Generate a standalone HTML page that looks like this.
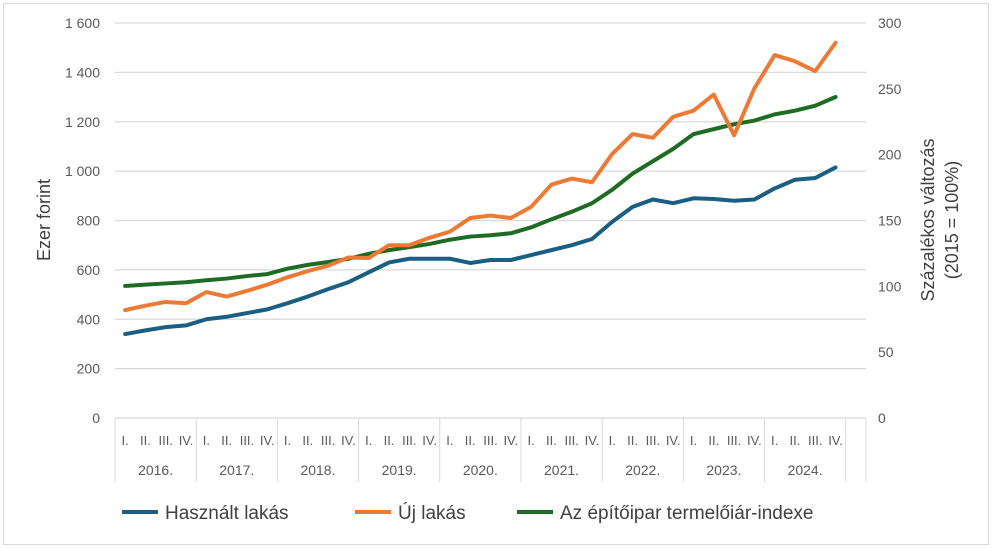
<!DOCTYPE html>
<html><head><meta charset="utf-8"><style>
body{margin:0;background:#fff;}
svg{display:block;font-family:"Liberation Sans",sans-serif;}
</style></head><body>
<svg id="c" width="992" height="548">
<rect x="3.5" y="3.5" width="985" height="541" fill="#fff" stroke="#d9d9d9"/>
<g id="grid"></g><g id="axes"></g><g id="lines"></g>
<text transform="translate(50,220) rotate(-90)" text-anchor="middle" font-size="18" fill="#404040">Ezer forint</text>
<text transform="translate(934,220) rotate(-90)" text-anchor="middle" font-size="18" fill="#404040"><tspan x="0" dy="0">Százalékos változás</tspan><tspan x="0" dy="24">(2015 = 100%)</tspan></text>
<g>
<line x1="122" y1="512" x2="158" y2="512" stroke="#1b5e83" stroke-width="4"/>
<text x="165" y="519" font-size="19" fill="#404040">Használt lakás</text>
<line x1="355" y1="512" x2="391" y2="512" stroke="#ed7a34" stroke-width="4"/>
<text x="398" y="519" font-size="19" fill="#404040">Új lakás</text>
<line x1="517" y1="512" x2="553" y2="512" stroke="#1e6b23" stroke-width="4"/>
<text x="560" y="519" font-size="19" fill="#404040">Az építőipar termelőiár-indexe</text>
</g>
</svg>
<script>
const years=["2016.","2017.","2018.","2019.","2020.","2021.","2022.","2023.","2024."];
const quarters=["I.","II.","III.","IV."];
const leftTicks=[0,200,400,600,800,1000,1200,1400,1600];
const rightTicks=[0,50,100,150,200,250,300];
const usedFlat=[340,355,368,375,400,410,425,440,465,492,522,550,590,630,645,645,645,628,640,640,660,680,700,725,795,855,885,870,890,887,880,885,930,965,972,1015];
const newFlat=[437,455,470,465,510,492,515,540,570,595,617,650,648,700,700,730,755,810,820,810,855,945,970,955,1070,1150,1135,1220,1245,1310,1145,1335,1470,1445,1405,1520];
const indexVals=[100.3,101.3,102.2,103.1,104.6,105.9,107.8,109.3,113.4,116.3,118.5,120.9,124.7,127.5,129.8,132.2,135.4,137.8,138.8,140.3,144.8,150.9,156.6,163.1,173.4,185.6,195,204.4,215.6,219.4,223.1,225.9,230.6,233.4,237.2,243.8];

const X0=115,X1=866,Y0=418,Y1=23,NC=37;
const step=(X1-X0)/NC;
const xs=i=>X0+(i+0.5)*step;
const yl=v=>Y0-(v/1600)*(Y0-Y1);
const yr=v=>Y0-(v/300)*(Y0-Y1);
const NS="http://www.w3.org/2000/svg";
function mk(tag,attrs,parent){const e=document.createElementNS(NS,tag);for(const k in attrs)e.setAttribute(k,attrs[k]);parent.appendChild(e);return e;}
const grid=document.getElementById('grid'),axes=document.getElementById('axes'),lines=document.getElementById('lines');
leftTicks.forEach(v=>{
  const g=mk('line',{x1:X0,x2:X1,y1:yl(v),y2:yl(v),stroke:'#d9d9d9','stroke-width':1.3},grid);
  
  
  const t=mk('text',{x:100,y:yl(v)+5,'text-anchor':'end','font-size':14,fill:'#595959'},axes);
  t.textContent=v>=1000?String(v).replace(/(\d)(\d{3})$/,'$1 $2'):String(v);
  
  
});
rightTicks.forEach(v=>{
  const t=mk('text',{x:878,y:yr(v)+5,'font-size':14,fill:'#595959'},axes);
  t.textContent=v;
  
  
});
for(let y=0;y<=years.length;y++){
  const x=X0+y*4*step;
  const l=mk('line',{x1:x,x2:x,y1:Y0,y2:482,stroke:'#d9d9d9','stroke-width':1},axes);
  
  
}
const le=mk('line',{x1:X1,x2:X1,y1:Y0,y2:482,stroke:'#d9d9d9','stroke-width':1},axes);


years.forEach((yr_,yi)=>{
  quarters.forEach((q,qi)=>{
    const t=mk('text',{x:xs(yi*4+qi),y:445,'text-anchor':'middle','font-size':13,fill:'#595959'},axes);
    t.textContent=q;
    
    
  });
  const t=mk('text',{x:X0+(yi*4+2)*step,y:475,'text-anchor':'middle','font-size':14,fill:'#595959'},axes);
  t.textContent=yr_;
  
  
});
function drawLine(vals,fy,color,name){
  const p=mk('polyline',{points:vals.map((v,i)=>xs(i)+','+fy(v)).join(' '),fill:'none',stroke:color,'stroke-width':4,'stroke-linejoin':'round','stroke-linecap':'round'},lines);
  
  
}
drawLine(indexVals,yr,'#1e6b23','index-line');
drawLine(usedFlat,yl,'#1b5e83','used-flat-line');
drawLine(newFlat,yl,'#ed7a34','new-flat-line');
</script>
</body></html>
